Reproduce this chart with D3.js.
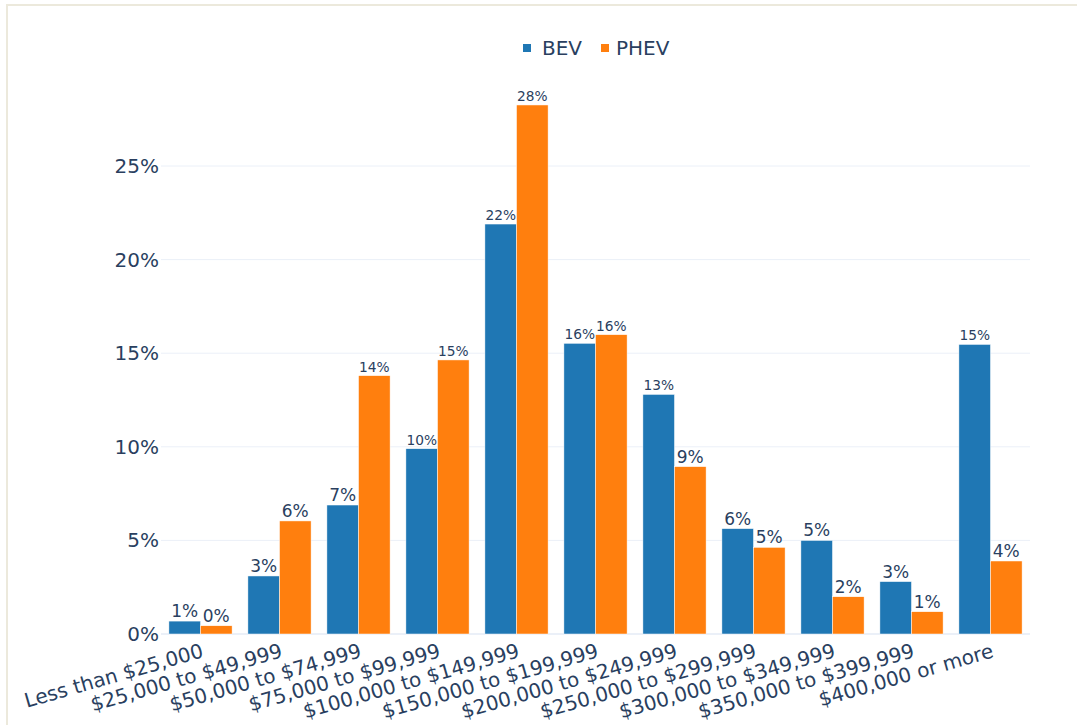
<!DOCTYPE html>
<html>
<head>
<meta charset="utf-8">
<script src="https://cdn.jsdelivr.net/npm/d3@7"></script>
<style>
  html, body { margin: 0; padding: 0; background: #ffffff; }
  svg { display: block; font-family: "DejaVu Sans", Verdana, sans-serif; }
</style>
</head>
<body>
<svg id="chart" width="1077" height="725"></svg>
<script>
// Household income brackets
const categories = [
  "Less than $25,000", "$25,000 to $49,999", "$50,000 to $74,999",
  "$75,000 to $99,999", "$100,000 to $149,999", "$150,000 to $199,999",
  "$200,000 to $249,999", "$250,000 to $299,999", "$300,000 to $349,999",
  "$350,000 to $399,999", "$400,000 or more"
];
const seriesNames = ["BEV", "PHEV"];
const bevValues  = [0.0069, 0.031, 0.0689, 0.099, 0.219, 0.1553, 0.128, 0.0563, 0.050, 0.028, 0.1547];
const phevValues = [0.0044, 0.0604, 0.138, 0.1464, 0.2826, 0.1599, 0.0894, 0.0463, 0.0199, 0.0119, 0.039];
const yTicks = [0, 0.05, 0.10, 0.15, 0.20, 0.25];

const colors = { BEV: "#1f77b4", PHEV: "#ff7f0e" };
const textColor = "#2a3f5f";
const gridColor = "#EBF0F8";

const svg = d3.select("#chart");

// frame lines on the top and left edges
svg.append("rect").attr("x", 6).attr("y", 4).attr("width", 1071).attr("height", 2).attr("fill", "#ece9dc");
svg.append("rect").attr("x", 6).attr("y", 4).attr("width", 2).attr("height", 721).attr("fill", "#ece9dc");

const plot = { left: 161, right: 1030, bottom: 634 };
const pxPerUnit = 1872; // pixels per 100%

const x = d3.scaleBand().domain(categories).range([plot.left, plot.right])
  .paddingInner(0.2).paddingOuter(0.1);
const xs = d3.scaleBand().domain(seriesNames).range([0, x.bandwidth()]);
const y = d3.scaleLinear().domain([0, 0.30]).range([plot.bottom, plot.bottom - 0.30 * pxPerUnit]);

const pct = d3.format(".0%");

// gridlines
svg.append("g").selectAll("line").data(yTicks.filter(d => d > 0)).join("line")
  .attr("x1", plot.left).attr("x2", plot.right)
  .attr("y1", d => y(d)).attr("y2", d => y(d))
  .attr("stroke", gridColor).attr("stroke-width", 1);
// zero line
svg.append("line").attr("x1", plot.left).attr("x2", plot.right)
  .attr("y1", y(0)).attr("y2", y(0)).attr("stroke", gridColor).attr("stroke-width", 2);

// y axis
const yAxis = svg.append("g").attr("transform", `translate(${plot.left},0)`)
  .call(d3.axisLeft(y).tickValues(yTicks).tickFormat(pct).tickSize(0).tickPadding(2));
yAxis.select(".domain").remove();
yAxis.selectAll("text").attr("fill", textColor).attr("font-size", 20)
  .attr("font-family", "DejaVu Sans, Verdana, sans-serif");

// x axis labels, rotated
const xAxis = svg.append("g").attr("transform", `translate(0,${plot.bottom})`)
  .call(d3.axisBottom(x).tickSize(0).tickPadding(0));
xAxis.select(".domain").remove();
xAxis.selectAll(".tick text")
  .attr("fill", textColor).attr("font-size", 20)
  .attr("font-family", "DejaVu Sans, Verdana, sans-serif")
  .attr("text-anchor", "end")
  .attr("y", 0).attr("dy", "0.72em")
  .attr("transform", "translate(0,9) rotate(-16)");

// bars
const rows = categories.map((c, i) => ({ cat: c, BEV: bevValues[i], PHEV: phevValues[i] }));
const groups = svg.append("g").selectAll("g").data(rows).join("g")
  .attr("transform", d => `translate(${x(d.cat)},0)`);

const bars = groups.selectAll("g.bar").data(d => seriesNames.map(s => ({ s, v: d[s] }))).join("g")
  .attr("class", "bar");
bars.append("rect")
  .attr("x", d => xs(d.s)).attr("width", xs.bandwidth())
  .attr("y", d => y(d.v)).attr("height", d => y(0) - y(d.v))
  .attr("fill", d => colors[d.s])
  .attr("stroke", "#ffffff").attr("stroke-width", 0.5);

// value labels above bars, shrunk to fit bar width
const baseSize = 17;
bars.append("text")
  .attr("x", d => xs(d.s) + xs.bandwidth() / 2)
  .attr("y", d => y(d.v) - 4)
  .attr("text-anchor", "middle")
  .attr("fill", textColor)
  .attr("font-size", baseSize)
  .text(d => pct(d.v))
  .each(function () {
    const w = this.getComputedTextLength();
    const avail = xs.bandwidth() - 1;
    if (w > avail) d3.select(this).attr("font-size", baseSize * avail / w);
  });

// legend
const legend = svg.append("g");
const legendItems = [
  { s: "BEV", sq: 523, tx: 542 },
  { s: "PHEV", sq: 601, tx: 616 }
];
legendItems.forEach(it => {
  legend.append("rect").attr("x", it.sq).attr("y", 44).attr("width", 8).attr("height", 8)
    .attr("fill", colors[it.s]);
  legend.append("text").attr("x", it.tx).attr("y", 55).attr("fill", textColor)
    .attr("font-size", 20).text(it.s);
});
</script>
</body>
</html>
